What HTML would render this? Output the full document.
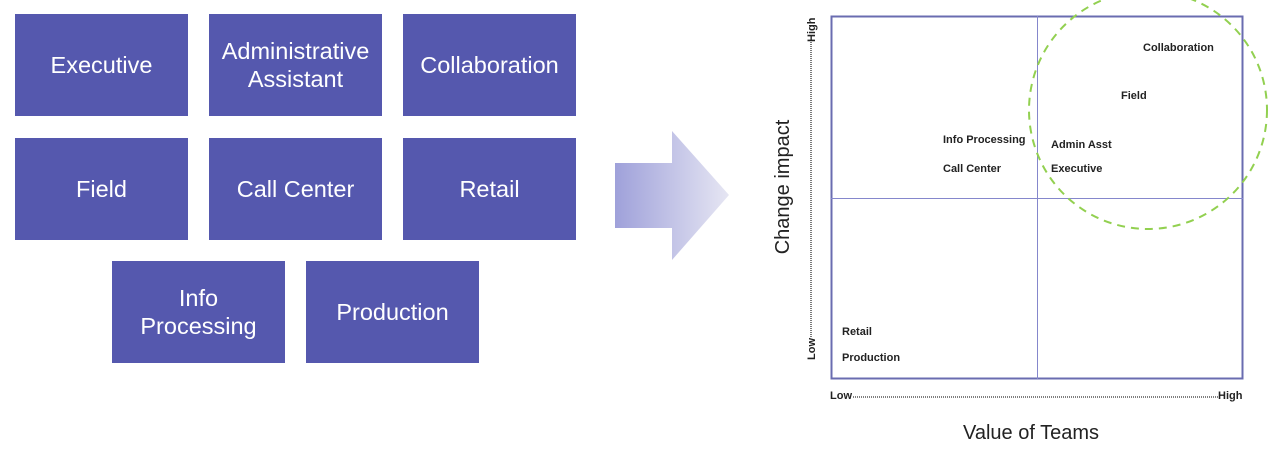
<!DOCTYPE html>
<html><head><style>
body{margin:0;width:1277px;height:459px;background:#fff;position:relative;overflow:hidden;font-family:"Liberation Sans",sans-serif}
.b{position:absolute;width:173px;height:102px;background:#5558ae;color:#fff;font-size:23.5px;display:flex;align-items:center;justify-content:center;text-align:center;line-height:28px}
.t{position:absolute;font-size:11px;font-weight:bold;color:#222;white-space:nowrap}
</style></head><body>
<div class="b" style="left:15px;top:14px">Executive</div>
<div class="b" style="left:209px;top:14px">Administrative<br>Assistant</div>
<div class="b" style="left:403px;top:14px">Collaboration</div>
<div class="b" style="left:15px;top:138px">Field</div>
<div class="b" style="left:209px;top:138px">Call Center</div>
<div class="b" style="left:403px;top:138px">Retail</div>
<div class="b" style="left:112px;top:261px">Info<br>Processing</div>
<div class="b" style="left:306px;top:261px">Production</div>
<svg width="1277" height="459" style="position:absolute;left:0;top:0">
<defs><linearGradient id="g" x1="0" x2="1"><stop offset="0" stop-color="#9fa1da"/><stop offset="1" stop-color="#e6e6f3"/></linearGradient></defs>
<polygon points="615,163 672,163 672,131 729,195 672,260 672,228 615,228" fill="url(#g)"/>
<rect x="831.5" y="16.5" width="411" height="362" fill="none" stroke="#6a6cb0" stroke-width="2"/>
<line x1="1037.5" y1="16" x2="1037.5" y2="379" stroke="#8587cc" stroke-width="1"/>
<line x1="831" y1="198.5" x2="1243" y2="198.5" stroke="#8587cc" stroke-width="1"/>
<circle cx="1148" cy="110" r="119" fill="none" stroke="#92d050" stroke-width="2" stroke-dasharray="8,6"/>
<line x1="811" y1="42" x2="811" y2="338" stroke="#333" stroke-width="1.3" stroke-dasharray="1,1"/>
<line x1="853" y1="397" x2="1218" y2="397" stroke="#333" stroke-width="1.3" stroke-dasharray="1,1"/>
<text x="815" y="360" font-size="11" font-weight="bold" fill="#222" transform="rotate(-90 815 360)" font-family="Liberation Sans">Low</text>
<text x="815" y="42" font-size="11" font-weight="bold" fill="#222" transform="rotate(-90 815 42)" font-family="Liberation Sans">High</text>
<text x="789" y="187" font-size="20" fill="#222" text-anchor="middle" transform="rotate(-90 789 187)" font-family="Liberation Sans">Change impact</text>
</svg>
<div class="t" style="left:830px;top:390px">Low</div>
<div class="t" style="left:1218px;top:390px">High</div>
<div style="position:absolute;left:963px;top:422px;font-size:20px;color:#222">Value of Teams</div>
<div class="t" style="left:1143px;top:42px">Collaboration</div>
<div class="t" style="left:1121px;top:90px">Field</div>
<div class="t" style="left:943px;top:134px">Info Processing</div>
<div class="t" style="left:943px;top:163px">Call Center</div>
<div class="t" style="left:1051px;top:139px">Admin Asst</div>
<div class="t" style="left:1051px;top:163px">Executive</div>
<div class="t" style="left:842px;top:326px">Retail</div>
<div class="t" style="left:842px;top:352px">Production</div>
</body></html>
